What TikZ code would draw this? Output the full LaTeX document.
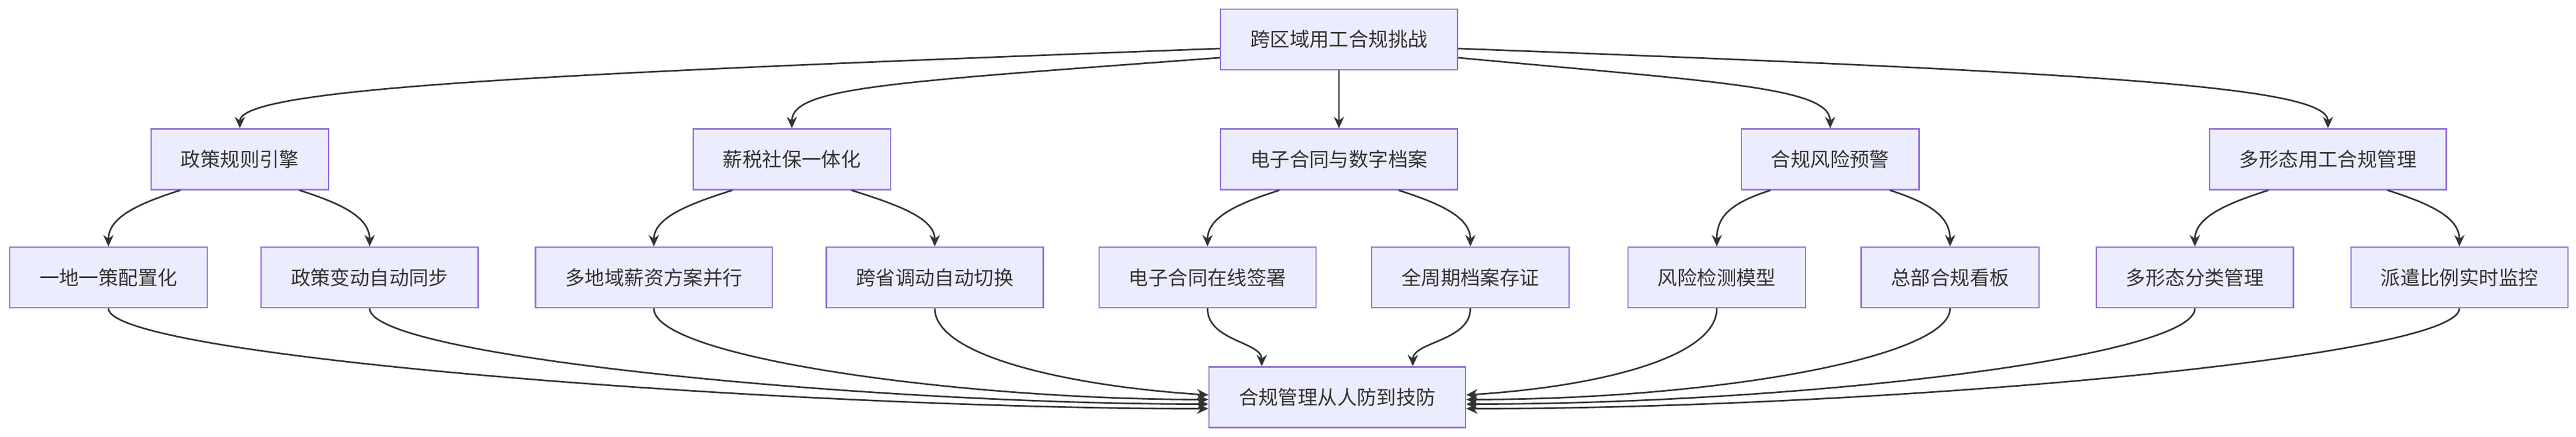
\documentclass[tikz,border=0pt]{standalone}
\usepackage{fontspec}
\newfontfamily\cjk{Noto Sans CJK SC}
\usetikzlibrary{arrows.meta}
\begin{document}
\begin{tikzpicture}[x=0.7175pt,y=-0.7175pt,
  box/.style={draw={rgb,255:red,147;green,112;blue,219}, fill={rgb,255:red,236;green,236;blue,255}, line width=0.6pt, inner xsep=13pt, minimum height=26.5pt, font=\cjk\fontsize{8.6}{10}\selectfont, text={rgb,255:red,51;green,51;blue,51}},
  arr/.style={draw={rgb,255:red,51;green,51;blue,51}, line width=0.7pt, -{Stealth[length=5pt,width=4.5pt]}}]
\useasboundingbox (0,0) rectangle (1568,266.2);
\node[box] (top) at (815,24) {跨区域用工合规挑战};
\node[box] (p1) at (146,97) {政策规则引擎};
\node[box] (p2) at (482,97) {薪税社保一体化};
\node[box] (p3) at (815,97) {电子合同与数字档案};
\node[box] (p4) at (1114,97) {合规风险预警};
\node[box] (p5) at (1417,97) {多形态用工合规管理};
\node[box] (c1) at (66,169) {一地一策配置化};
\node[box] (c2) at (225,169) {政策变动自动同步};
\node[box] (c3) at (398,169) {多地域薪资方案并行};
\node[box] (c4) at (569,169) {跨省调动自动切换};
\node[box] (c5) at (735,169) {电子合同在线签署};
\node[box] (c6) at (895,169) {全周期档案存证};
\node[box] (c7) at (1045,169) {风险检测模型};
\node[box] (c8) at (1187,169) {总部合规看板};
\node[box] (c9) at (1336,169) {多形态分类管理};
\node[box] (c10) at (1497,169) {派遣比例实时监控};
\node[box] (bot) at (814,242) {合规管理从人防到技防};
\draw[arr] ([yshift=-4pt]top.west) .. controls +(-400,15) and +(0,-25) .. (p1.north);
\draw[arr] ([yshift=-8pt]top.west) .. controls +(-200,15) and +(0,-25) .. (p2.north);
\draw[arr] (top) -- (p3);
\draw[arr] ([yshift=-8pt]top.east) .. controls +(160,15) and +(0,-25) .. (p4.north);
\draw[arr] ([yshift=-4pt]top.east) .. controls +(400,15) and +(0,-25) .. (p5.north);
\foreach \p/\a/\b in {p1/c1/c2,p2/c3/c4,p3/c5/c6,p4/c7/c8,p5/c9/c10}{
  \draw[arr] ([xshift=-26pt]\p.south) .. controls +(-25,8) and +(0,-18) .. (\a.north);
  \draw[arr] ([xshift=26pt]\p.south) .. controls +(25,8) and +(0,-18) .. (\b.north);
}
\draw[arr] (c1.south) .. controls +(0,30) and +(-250,0) .. ([yshift=-5pt]bot.west);
\draw[arr] (c2.south) .. controls +(0,30) and +(-200,0) .. ([yshift=-3pt]bot.west);
\draw[arr] (c3.south) .. controls +(0,30) and +(-150,0) .. ([yshift=-1pt]bot.west);
\draw[arr] (c4.south) .. controls +(0,30) and +(-80,-5) .. ([yshift=1pt]bot.west);
\draw[arr] (c5.south) .. controls +(0,20) and +(0,-15) .. ([xshift=-33pt]bot.north);
\draw[arr] (c6.south) .. controls +(0,20) and +(0,-15) .. ([xshift=33pt]bot.north);
\draw[arr] (c7.south) .. controls +(0,30) and +(80,-5) .. ([yshift=1pt]bot.east);
\draw[arr] (c8.south) .. controls +(0,30) and +(150,0) .. ([yshift=-1pt]bot.east);
\draw[arr] (c9.south) .. controls +(0,30) and +(200,0) .. ([yshift=-3pt]bot.east);
\draw[arr] (c10.south) .. controls +(0,30) and +(250,0) .. ([yshift=-5pt]bot.east);
\end{tikzpicture}
\end{document}
